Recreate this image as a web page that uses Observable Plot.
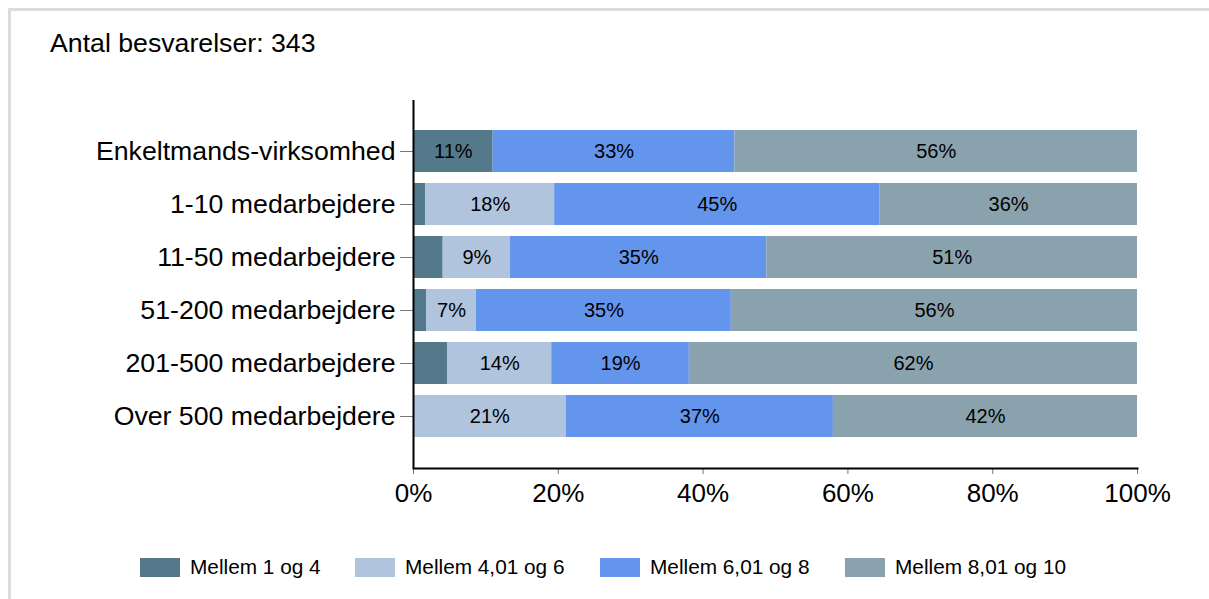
<!DOCTYPE html>
<html>
<head>
<meta charset="utf-8">
<script src="https://cdn.jsdelivr.net/npm/d3@7"></script>
<script src="https://cdn.jsdelivr.net/npm/@observablehq/plot@0.6"></script>
<style>
  html, body { margin: 0; padding: 0; background: #fff; }
  body { width: 1209px; height: 599px; position: relative; overflow: hidden; font-family: "Liberation Sans", Arial, sans-serif; }
  #border { position: absolute; left: 8px; top: 8px; width: 1300px; height: 700px; border-left: 3px solid #dcdcdc; border-top: 3px solid #dcdcdc; }
  #title { position: absolute; left: 50px; top: 28px; font-size: 26.7px; color: #000; line-height: 30px; }
  #chart { position: absolute; left: 0; top: 0; }
  #legend { position: absolute; left: 0; top: 556px; width: 1209px; height: 24px; font-size: 20.8px; }
  .item { position: absolute; top: 0; display: flex; align-items: center; height: 22px; }
  .sw { width: 40px; height: 19px; margin-right: 10px; }
</style>
</head>
<body>
<div id="border"></div>
<div id="chart"></div>
<div id="title">Antal besvarelser: 343</div>
<div id="legend"></div>
<script>
const categories = [
  "Enkeltmands-virksomhed",
  "1-10 medarbejdere",
  "11-50 medarbejdere",
  "51-200 medarbejdere",
  "201-500 medarbejdere",
  "Over 500 medarbejdere"
];
const seriesNames = ["Mellem 1 og 4", "Mellem 4,01 og 6", "Mellem 6,01 og 8", "Mellem 8,01 og 10"];
const seriesColors = ["#54798a", "#b0c4de", "#6495ed", "#8aa2ad"];
const s1 = [11.0, 1.7, 4.1, 1.8, 4.7, 0];
const s2 = [0, 17.8, 9.3, 6.9, 14.4, 21.1];
const s3 = [33.4, 44.9, 35.4, 35.2, 19.0, 36.9];
const s4 = [55.6, 35.6, 51.2, 56.1, 61.9, 42.0];
const xTicks = [0, 20, 40, 60, 80, 100];

const seriesValues = [s1, s2, s3, s4];
const data = [];
categories.forEach((c, i) => {
  seriesValues.forEach((vals, j) => {
    data.push({cat: c, series: seriesNames[j], value: vals[i]});
  });
});

const chart = Plot.plot({
  width: 1209,
  height: 520,
  marginTop: 100,
  marginBottom: 52,
  marginLeft: 413,
  marginRight: 72,
  style: {fontFamily: '"Liberation Sans", Arial, sans-serif', background: "transparent"},
  x: {domain: [0, 100]},
  y: {domain: categories, paddingInner: 0.2, paddingOuter: 0.57},
  color: {domain: seriesNames, range: seriesColors},
  marks: [
    Plot.barX(data, Plot.stackX({x: "value", y: "cat", fill: "series"})),
    Plot.text(data, Plot.stackX({x: "value", y: "cat", text: d => d.value >= 5 ? Math.round(d.value) + "%" : "", fontSize: 20, fill: "black"})),
    Plot.axisY({tickSize: 13, tickPadding: 5, fontSize: 26.7, stroke: "#777", fill: "black", label: null}),
    Plot.axisX({ticks: xTicks, tickFormat: d => d + "%", tickSize: 6, tickPadding: 9, fontSize: 26, stroke: "#777", fill: "black", label: null}),
    Plot.ruleX([0], {stroke: "black", strokeWidth: 2}),
    Plot.frame({anchor: "bottom", stroke: "black", strokeWidth: 2})
  ]
});
document.getElementById("chart").appendChild(chart);

const legend = document.getElementById("legend");
const legendX = [140, 355, 600, 845];
seriesNames.forEach((name, i) => {
  const item = document.createElement("div");
  item.className = "item";
  item.style.left = legendX[i] + "px";
  const sw = document.createElement("div");
  sw.className = "sw";
  sw.style.background = seriesColors[i];
  const t = document.createElement("span");
  t.textContent = name;
  item.appendChild(sw);
  item.appendChild(t);
  legend.appendChild(item);
});
</script>
</body>
</html>
